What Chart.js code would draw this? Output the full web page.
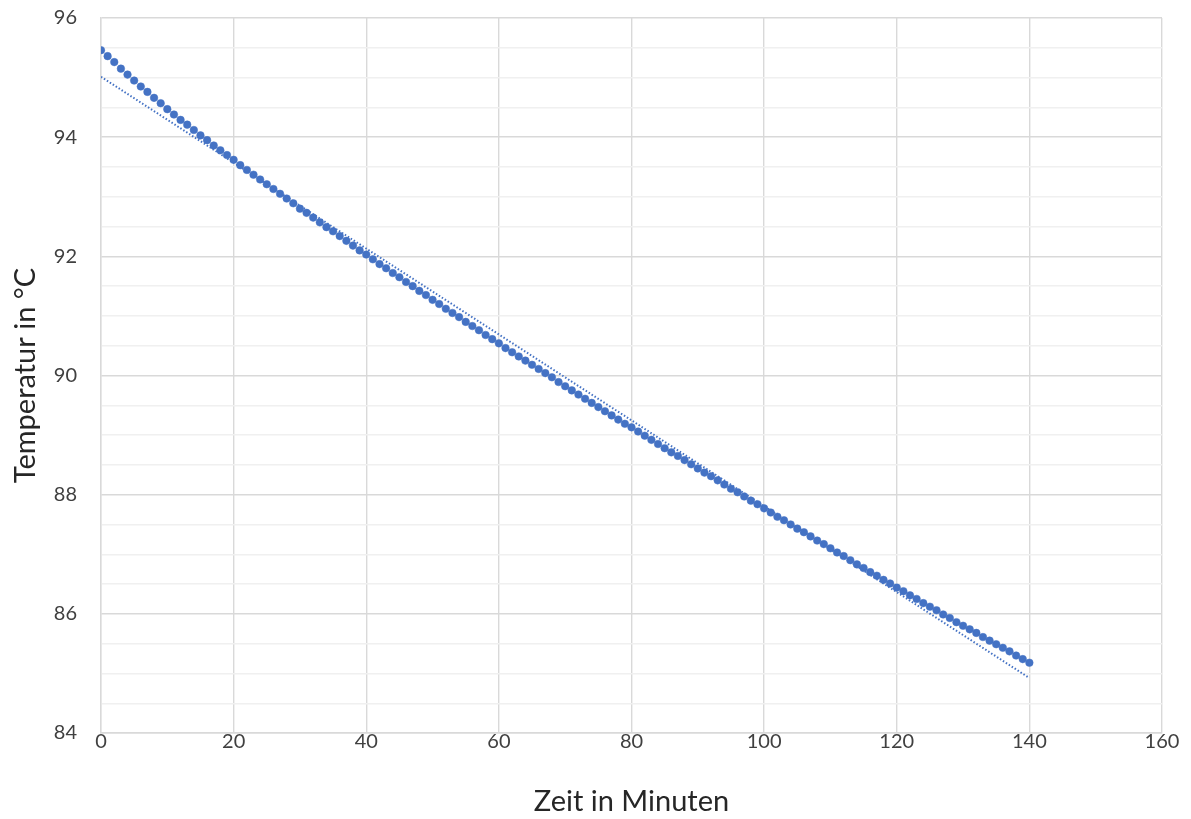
<!DOCTYPE html>
<html>
<head>
<meta charset="utf-8">
<script src="https://cdn.jsdelivr.net/npm/chart.js@4"></script>
<style>
  html, body { margin: 0; padding: 0; background: #ffffff; }
  #wrap { width: 1191px; height: 819px; }
</style>
</head>
<body>
<div id="wrap"><canvas id="cooling" width="1191" height="819"></canvas></div>
<script>
// ---- data ----
const minutes = [
    0, 1, 2, 3, 4, 5, 6, 7, 8, 9, 10, 11, 12, 13, 14, 15, 16, 17, 18, 19,
    20, 21, 22, 23, 24, 25, 26, 27, 28, 29, 30, 31, 32, 33, 34, 35, 36, 37, 38, 39,
    40, 41, 42, 43, 44, 45, 46, 47, 48, 49, 50, 51, 52, 53, 54, 55, 56, 57, 58, 59,
    60, 61, 62, 63, 64, 65, 66, 67, 68, 69, 70, 71, 72, 73, 74, 75, 76, 77, 78, 79,
    80, 81, 82, 83, 84, 85, 86, 87, 88, 89, 90, 91, 92, 93, 94, 95, 96, 97, 98, 99,
    100, 101, 102, 103, 104, 105, 106, 107, 108, 109, 110, 111, 112, 113, 114, 115, 116, 117, 118, 119,
    120, 121, 122, 123, 124, 125, 126, 127, 128, 129, 130, 131, 132, 133, 134, 135, 136, 137, 138, 139,
    140
];
const temps = [
    95.46, 95.36, 95.26, 95.15, 95.05, 94.95, 94.85, 94.76, 94.66, 94.57,
    94.47, 94.38, 94.29, 94.21, 94.12, 94.03, 93.95, 93.86, 93.78, 93.70,
    93.62, 93.53, 93.45, 93.37, 93.29, 93.21, 93.13, 93.05, 92.97, 92.89,
    92.80, 92.73, 92.65, 92.57, 92.49, 92.42, 92.34, 92.26, 92.18, 92.10,
    92.03, 91.95, 91.87, 91.80, 91.72, 91.65, 91.57, 91.50, 91.42, 91.35,
    91.27, 91.20, 91.12, 91.05, 90.98, 90.90, 90.83, 90.76, 90.68, 90.61,
    90.54, 90.46, 90.39, 90.32, 90.25, 90.18, 90.11, 90.04, 89.97, 89.89,
    89.82, 89.75, 89.68, 89.61, 89.54, 89.47, 89.40, 89.33, 89.26, 89.19,
    89.13, 89.06, 88.99, 88.92, 88.85, 88.78, 88.71, 88.65, 88.58, 88.51,
    88.44, 88.37, 88.31, 88.24, 88.17, 88.10, 88.04, 87.97, 87.90, 87.84,
    87.77, 87.70, 87.63, 87.57, 87.50, 87.43, 87.37, 87.30, 87.23, 87.17,
    87.10, 87.03, 86.97, 86.90, 86.83, 86.77, 86.70, 86.64, 86.57, 86.51,
    86.44, 86.38, 86.31, 86.25, 86.18, 86.12, 86.06, 85.99, 85.93, 85.86,
    85.80, 85.74, 85.68, 85.61, 85.55, 85.49, 85.43, 85.37, 85.30, 85.24,
    85.18
];
const xTicks = [0, 20, 40, 60, 80, 100, 120, 140, 160];
const yTicks = [84, 86, 88, 90, 92, 94, 96];

const BLUE = '#4472C4';
const GRID = '#d9d9d9';
const GRID_MINOR = '#f0f0f0';
const TICK_TEXT = '#404040';
const TITLE_TEXT = '#262626';

// linear trendline (least squares), like Excel's "Linear" trendline
function linearFit(xs, ys) {
    const n = xs.length;
    let sx = 0, sy = 0, sxx = 0, sxy = 0;
    for (let i = 0; i < n; i++) {
        sx += xs[i]; sy += ys[i];
        sxx += xs[i] * xs[i]; sxy += xs[i] * ys[i];
    }
    const slope = (n * sxy - sx * sy) / (n * sxx - sx * sx);
    return { slope, intercept: (sy - slope * sx) / n };
}
const fit = linearFit(minutes, temps);
const xFirst = minutes[0], xLast = minutes[minutes.length - 1];
const trendPoints = [
    { x: xFirst, y: fit.intercept + fit.slope * xFirst },
    { x: xLast,  y: fit.intercept + fit.slope * xLast }
];

const points = minutes.map((m, i) => ({ x: m, y: temps[i] }));

new Chart(document.getElementById('cooling'), {
    type: 'scatter',
    data: {
        datasets: [
            {
                label: 'Trend',
                type: 'line',
                data: trendPoints,
                borderColor: BLUE,
                borderWidth: 2,
                borderDash: [1.5, 2],
                pointRadius: 0,
                fill: false,
                order: 0
            },
            {
                label: 'Temperatur',
                data: points,
                backgroundColor: BLUE,
                borderColor: BLUE,
                borderWidth: 0.5,
                pointRadius: 3.8,
                order: 1
            }
        ]
    },
    options: {
        responsive: false,
        animation: false,
        events: [],
        layout: { padding: { left: 0, right: 29, top: 18, bottom: 0 } },
        plugins: { legend: { display: false }, tooltip: { enabled: false } },
        scales: {
            x: {
                type: 'linear',
                min: xTicks[0],
                max: xTicks[xTicks.length - 1],
                afterBuildTicks: axis => { axis.ticks = xTicks.map(v => ({ value: v })); },
                afterFit: axis => {
                    axis.height = 86;
                    axis.paddingLeft = 0;
                    axis.paddingRight = 0;
                },
                grid: { color: GRID, lineWidth: 1.4, drawTicks: false },
                border: { color: GRID, width: 1.4 },
                ticks: {
                    color: TICK_TEXT,
                    padding: -3,
                    maxRotation: 0,
                    font: { family: 'Lato', size: 20 }
                },
                title: {
                    display: true,
                    text: 'Zeit in Minuten',
                    color: TITLE_TEXT,
                    padding: { top: 4, bottom: 0 },
                    font: { family: 'Lato', size: 29 }
                }
            },
            y: {
                min: yTicks[0],
                max: yTicks[yTicks.length - 1],
                ticks: {
                    stepSize: 0.5,
                    color: TICK_TEXT,
                    padding: 24,
                    font: { family: 'Lato', size: 20 },
                    callback: v => (yTicks.includes(v) ? String(v) : '')
                },
                afterFit: axis => {
                    axis.width = 101;
                    axis.paddingTop = 0;
                    axis.paddingBottom = 0;
                },
                grid: {
                    drawTicks: false,
                    lineWidth: 1.4,
                    color: ctx => (ctx.tick && yTicks.includes(ctx.tick.value) ? GRID : GRID_MINOR)
                },
                border: { color: GRID, width: 1.4 },
                title: {
                    display: true,
                    text: 'Temperatur in °C',
                    color: TITLE_TEXT,
                    padding: { top: 8, bottom: 0 },
                    font: { family: 'Lato', size: 29 }
                }
            }
        }
    }
});
</script>
</body>
</html>
